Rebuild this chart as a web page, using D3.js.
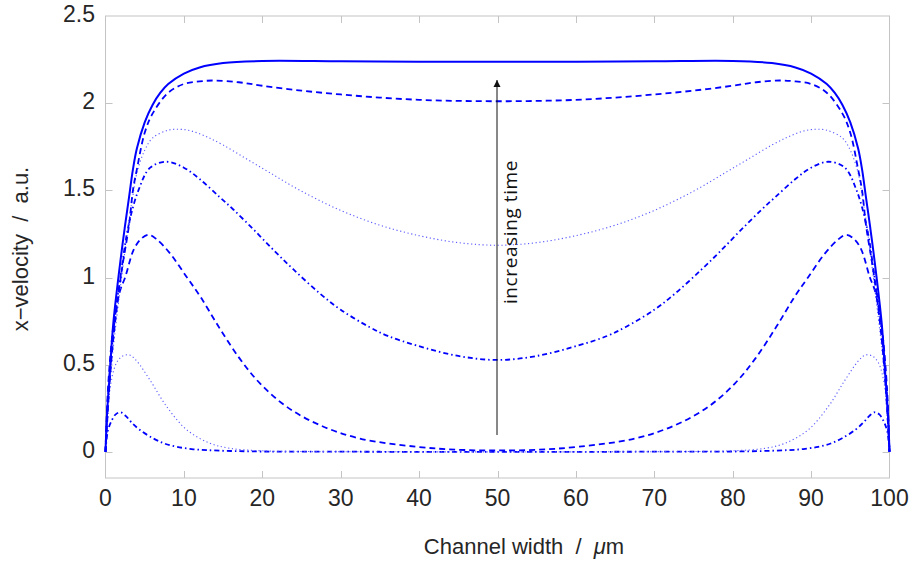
<!DOCTYPE html>
<html><head><meta charset="utf-8">
<script src="https://cdn.jsdelivr.net/npm/d3@7/dist/d3.min.js"></script>
<style>body{margin:0;background:#fff}svg{display:block}</style>
</head><body>
<svg id="chart" width="912" height="565"></svg>
<script>
// x positions (µm) and velocity series
const c1x = [0,0.3,0.8,1.3,1.9,2.6,3.3,4.4,6.1,7.5,9.1,11,12.9,16,20,30,40,50,60,70,80,84,87.1,89,90.9,92.5,93.9,95.6,96.7,97.4,98.1,98.7,99.2,99.7,100];
const c1y = [0,0.12,0.18,0.215,0.227,0.205,0.17,0.125,0.077,0.048,0.029,0.016,0.01,0.005,0.002,0.001,0,0,0,0.001,0.002,0.005,0.01,0.016,0.029,0.048,0.077,0.125,0.17,0.205,0.227,0.215,0.18,0.12,0];

const c2x = [0,0.3,0.6,1.4,2.2,3.1,4,5.7,7.8,10.4,13.3,15.9,20,25,30,40,50,60,70,75,80,84.1,86.7,89.6,92.2,94.3,96,96.9,97.8,98.6,99.4,99.7,100];
const c2y = [0,0.2,0.37,0.51,0.55,0.555,0.52,0.41,0.26,0.125,0.05,0.02,0.006,0.002,0.001,0,0,0,0.001,0.002,0.006,0.02,0.05,0.125,0.26,0.41,0.52,0.555,0.55,0.51,0.37,0.2,0];

const c3x = [0,0.3,0.8,1.2,1.9,2.5,3.6,4.5,5.5,6.5,8.2,10.4,12.1,14.4,17.1,19.7,23.1,27.3,32.4,39.7,45,50,55,60.3,67.6,72.7,76.9,80.3,82.9,85.6,87.9,89.6,91.8,93.5,94.5,95.5,96.4,97.5,98.1,98.8,99.2,99.7,100];
const c3y = [0,0.35,0.64,0.78,0.93,1.0,1.16,1.22,1.245,1.22,1.14,1.0,0.89,0.72,0.536,0.393,0.259,0.154,0.077,0.029,0.012,0.008,0.012,0.029,0.077,0.154,0.259,0.393,0.536,0.72,0.89,1.0,1.14,1.22,1.245,1.22,1.16,1.0,0.93,0.78,0.64,0.35,0];

const c4x = [0,0.3,0.6,1.2,1.9,2.9,4.2,5.7,7.8,10,12,14.6,16.3,19,21.6,24,27.3,30,33.7,36,39.7,45,50,55,60.3,64,66.3,70,72.7,76,78.4,81,83.7,85.4,88,90,92.2,94.3,95.8,97.1,98.1,98.8,99.4,99.7,100];
const c4y = [0,0.3,0.49,0.77,1.0,1.29,1.5,1.63,1.664,1.63,1.565,1.46,1.39,1.27,1.15,1.045,0.91,0.815,0.715,0.665,0.61,0.55,0.527,0.55,0.61,0.665,0.715,0.815,0.91,1.045,1.15,1.27,1.39,1.46,1.565,1.63,1.664,1.63,1.5,1.29,1.0,0.77,0.49,0.3,0];

const c5x = [0,0.3,0.5,1,2,3,3.5,4,5,6,8,9.5,11,13,15,18,21,25,30,35,40,45,50,55,60,65,70,75,79,82,85,87,89,90.5,92,94,95,96,96.5,97,98,99,99.5,99.7,100];
const c5y = [0,0.22,0.35,0.6,0.98,1.33,1.47,1.6,1.73,1.8,1.845,1.85,1.84,1.805,1.76,1.68,1.6,1.495,1.385,1.3,1.24,1.2,1.185,1.2,1.24,1.3,1.385,1.495,1.6,1.68,1.76,1.805,1.84,1.85,1.845,1.8,1.73,1.6,1.47,1.33,0.98,0.6,0.35,0.22,0];

const c6x = [0,0.3,0.5,1,2,3,3.5,4,5,6,8,10,12,14,17,20,25,30,35,40,45,50,55,60,65,70,75,80,83,86,88,90,92,94,95,96,96.5,97,98,99,99.5,99.7,100];
const c6y = [0,0.24,0.38,0.65,1.02,1.3,1.5,1.62,1.83,1.94,2.06,2.11,2.125,2.13,2.12,2.1,2.072,2.05,2.032,2.019,2.013,2.011,2.013,2.019,2.032,2.05,2.072,2.1,2.12,2.13,2.125,2.11,2.06,1.94,1.83,1.62,1.5,1.3,1.02,0.65,0.38,0.24,0];

const c7x = [0,0.2,0.5,1,2,2.5,3,3.5,4,5,6,7,8,10,12,15,20,30,40,50,60,70,80,85,88,90,92,93,94,95,96,96.5,97,97.5,98,99,99.5,99.8,100];
const c7y = [0,0.22,0.42,0.74,1.13,1.3,1.46,1.62,1.74,1.89,1.99,2.06,2.11,2.17,2.205,2.23,2.242,2.24,2.238,2.237,2.238,2.24,2.242,2.23,2.205,2.17,2.11,2.06,1.99,1.89,1.74,1.62,1.46,1.3,1.13,0.74,0.42,0.22,0];

const xTicks = [0,10,20,30,40,50,60,70,80,90,100];
const yTicks = [0,0.5,1,1.5,2,2.5];
const yTickLabels = ["0","0.5","1","1.5","2","2.5"];

const series = [
  {x:c1x, y:c1y, style:"dashdot"},
  {x:c2x, y:c2y, style:"dotted"},
  {x:c3x, y:c3y, style:"dashed"},
  {x:c4x, y:c4y, style:"dashdot"},
  {x:c5x, y:c5y, style:"dotted"},
  {x:c6x, y:c6y, style:"dashed"},
  {x:c7x, y:c7y, style:"solid"}
];

const svg = d3.select("#chart");
const L = 105.5, R = 889.5, T = 16, B = 478;
const x = d3.scaleLinear().domain([0,100]).range([L,R]);
const y = d3.scaleLinear().domain([-0.15,2.5]).range([B,T]);
const font = "'Liberation Sans', Arial, sans-serif";
const gridCol = "#c4c4c4";
const txtCol = "#262626";

// frame
svg.append("rect").attr("x",L).attr("y",T).attr("width",R-L).attr("height",B-T)
  .attr("fill","none").attr("stroke",gridCol).attr("stroke-width",1);

// ticks (inward, mirrored)
const tl = 7;
xTicks.forEach(t => {
  const px = Math.round(x(t))+0.5;
  if (t>0 && t<100) {
    svg.append("line").attr("x1",px).attr("x2",px).attr("y1",B).attr("y2",B-tl).attr("stroke",gridCol);
    svg.append("line").attr("x1",px).attr("x2",px).attr("y1",T).attr("y2",T+tl).attr("stroke",gridCol);
  }
  svg.append("text").attr("x",x(t)).attr("y",506).attr("text-anchor","middle")
    .attr("font-family",font).attr("font-size",23).attr("fill",txtCol).text(t);
});
yTicks.forEach((t,i) => {
  const py = Math.round(y(t))+0.5;
  if (t<2.5) {
    svg.append("line").attr("x1",L).attr("x2",L+tl).attr("y1",py).attr("y2",py).attr("stroke",gridCol);
    svg.append("line").attr("x1",R).attr("x2",R-tl).attr("y1",py).attr("y2",py).attr("stroke",gridCol);
  }
  svg.append("text").attr("x",95).attr("y",y(t)+6).attr("text-anchor","end")
    .attr("font-family",font).attr("font-size",23).attr("fill",txtCol).text(yTickLabels[i]);
});

// axis titles
const xt = svg.append("text").attr("x",524).attr("y",554).attr("text-anchor","middle")
  .attr("font-family",font).attr("font-size",22).attr("fill",txtCol).attr("xml:space","preserve");
xt.append("tspan").text("Channel width  /  ");
xt.append("tspan").attr("font-style","italic").text("\u03bc");
xt.append("tspan").text("m");
svg.append("text").attr("transform","translate(28,249) rotate(-90)").attr("text-anchor","middle")
  .attr("font-family",font).attr("font-size",22).attr("fill",txtCol).attr("xml:space","preserve")
  .text("x\u2212velocity  /  a.u.");

// curves
const styles = {
  solid:  {stroke:"#0000ff", w:2,   dash:null},
  dashed: {stroke:"#0000ff", w:1.8, dash:"6,4"},
  dashdot:{stroke:"#0000ff", w:1.8, dash:"5,3,1.5,3"},
  dotted: {stroke:"#5a5aff", w:1.1, dash:"1.2,2.6"}
};
const line = d3.line().x(d=>x(d[0])).y(d=>y(d[1])).curve(d3.curveCatmullRom.alpha(0.5));
series.forEach(s => {
  const st = styles[s.style];
  const pts = s.x.map((v,i)=>[v,s.y[i]]);
  const p = svg.append("path").attr("d",line(pts)).attr("fill","none")
    .attr("stroke",st.stroke).attr("stroke-width",st.w);
  if (st.dash) p.attr("stroke-dasharray",st.dash);
});

// annotation arrow
svg.append("defs").append("marker").attr("id","ah").attr("viewBox","0 0 10 10")
  .attr("refX",10).attr("refY",5).attr("markerWidth",7).attr("markerHeight",9)
  .attr("markerUnits","userSpaceOnUse").attr("orient","auto")
  .append("path").attr("d","M0,0 L10,5 L0,10 Z").attr("fill","#111");
svg.append("line").attr("x1",x(50)-0.5).attr("x2",x(50)-0.5).attr("y1",435).attr("y2",80)
  .attr("stroke","#111").attr("stroke-width",1).attr("marker-end","url(#ah)");
svg.append("text").attr("transform","translate(517,232) rotate(-90)").attr("text-anchor","middle")
  .attr("font-family","'Open Sans', 'DejaVu Sans', sans-serif").attr("font-size",19).attr("letter-spacing",0.6)
  .attr("fill","#111").text("increasing time");
</script>
</body></html>
